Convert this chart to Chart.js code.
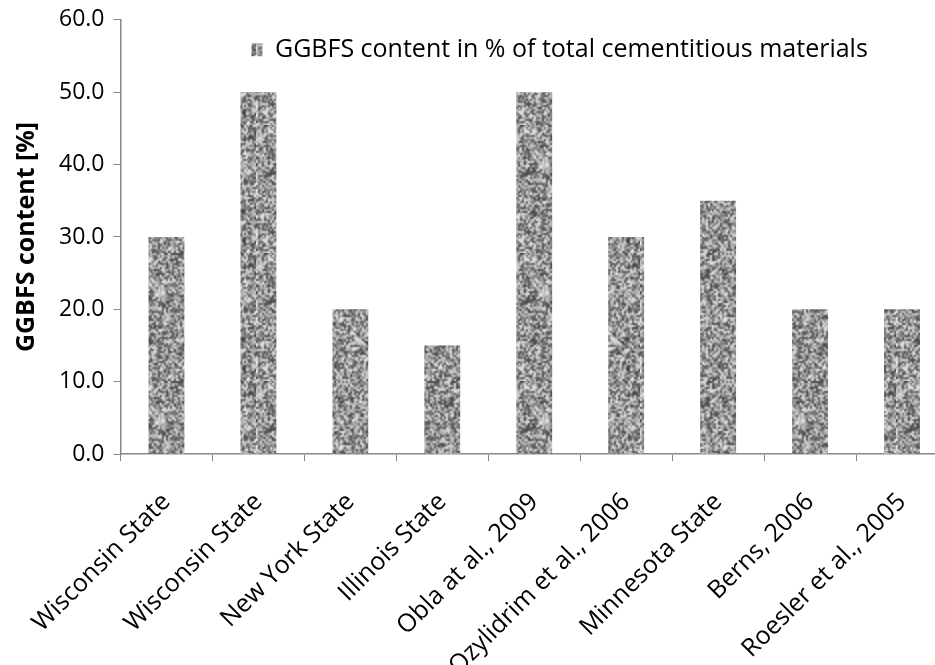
<!DOCTYPE html>
<html>
<head>
<meta charset="utf-8">
<title>GGBFS content</title>
<script src="https://cdn.jsdelivr.net/npm/chart.js@4.4.1/dist/chart.umd.min.js"></script>
<style>
  html, body { margin: 0; padding: 0; background: #fff; overflow: hidden; }
  #wrap { width: 960px; height: 710px; margin-top: -3px; }
</style>
</head>
<body>
<div id="wrap"><canvas id="ggbfsChart" width="960" height="710"></canvas></div>
<script>
// Data
const categories = ['Wisconsin State', 'Wisconsin State', 'New York State', 'Illinois State',
    'Obla at al., 2009', 'Ozylidrim et al., 2006', 'Minnesota State', 'Berns, 2006', 'Roesler et al., 2005'];
const ggbfsValues = [30, 50, 20, 15, 50, 30, 35, 20, 20];
const seriesLabel = 'GGBFS content in % of total cementitious materials';
const yTitle = 'GGBFS content [%]';

const FONT = "'Open Sans', 'Liberation Sans', sans-serif";

// Grainy grey texture like the original bar fill (seeded so it is the same every run)
function makeNoisePattern() {
    const n = 64;
    const small = document.createElement('canvas');
    small.width = n; small.height = n;
    const sctx = small.getContext('2d');
    let seed = 98765;
    function rnd() {
        seed = (seed * 1103515245 + 12345) % 2147483648;
        return seed / 2147483648;
    }
    for (let y = 0; y < n; y++) {
        for (let x = 0; x < n; x++) {
            const g = Math.round(60 + rnd() * 180);
            sctx.fillStyle = 'rgb(' + g + ',' + g + ',' + g + ')';
            sctx.fillRect(x, y, 1, 1);
        }
    }
    // scale up 2x with smoothing, drawn 3x3 so tile edges wrap cleanly
    const big = document.createElement('canvas');
    big.width = n * 6; big.height = n * 6;
    const bctx = big.getContext('2d');
    bctx.imageSmoothingEnabled = true;
    for (let i = 0; i < 3; i++) {
        for (let j = 0; j < 3; j++) {
            bctx.drawImage(small, i * n * 2, j * n * 2, n * 2, n * 2);
        }
    }
    const c = document.createElement('canvas');
    c.width = n * 2; c.height = n * 2;
    c.getContext('2d').drawImage(big, n * 2, n * 2, n * 2, n * 2, 0, 0, n * 2, n * 2);
    return c.getContext('2d').createPattern(c, 'repeat');
}

// Put the legend near the top of the plot, right of centre as in the original
const legendPlace = {
    id: 'legendPlace',
    afterLayout(chart) {
        const lg = chart.legend;
        const ca = chart.chartArea;
        if (lg) {
            lg.left = ca.left + 121;
            lg.right = ca.right + 121;
            lg.width = lg.right - lg.left;
            lg.top = ca.top + 7;
            lg.height = 46;
            lg.bottom = lg.top + lg.height;
        }
    }
};

document.addEventListener('DOMContentLoaded', function() {
    const el = document.getElementById('ggbfsChart');
    const noise = makeNoisePattern();

    new Chart(el, {
        type: 'bar',
        data: {
            labels: categories,
            datasets: [{
                label: seriesLabel,
                data: ggbfsValues,
                backgroundColor: noise,
                borderWidth: 0,
                barPercentage: 0.39,
                categoryPercentage: 1.0
            }]
        },
        options: {
            responsive: false,
            animation: false,
            layout: { padding: { left: 12, right: 12, top: 2, bottom: 0 } },
            plugins: {
                legend: {
                    position: 'chartArea',
                    align: 'center',
                    labels: {
                        font: { family: FONT, size: 25 },
                        color: '#000',
                        boxWidth: 11,
                        boxHeight: 13,
                        padding: 10
                    }
                },
                tooltip: { enabled: false }
            },
            scales: {
                y: {
                    min: 0,
                    max: 60,
                    ticks: {
                        stepSize: 10,
                        color: '#000',
                        font: { family: FONT, size: 23 },
                        padding: 9,
                        callback: function(v) { return v.toFixed(1); }
                    },
                    grid: {
                        drawOnChartArea: false,
                        drawTicks: true,
                        tickLength: 7,
                        color: '#888'
                    },
                    border: { color: '#888', width: 1.5 },
                    title: {
                        display: true,
                        text: yTitle,
                        color: '#000',
                        font: { family: FONT, size: 25, weight: 'bold' },
                        padding: { top: 0, bottom: 8 }
                    }
                },
                x: {
                    offset: true,
                    ticks: {
                        color: '#000',
                        font: { family: FONT, size: 25 },
                        minRotation: 45,
                        maxRotation: 45,
                        autoSkip: false,
                        padding: 26
                    },
                    grid: {
                        offset: true,
                        drawOnChartArea: false,
                        drawTicks: true,
                        tickLength: 7,
                        color: '#888'
                    },
                    border: { color: '#888', width: 1.5 }
                }
            }
        },
        plugins: [legendPlace]
    });
});
</script>
</body>
</html>
